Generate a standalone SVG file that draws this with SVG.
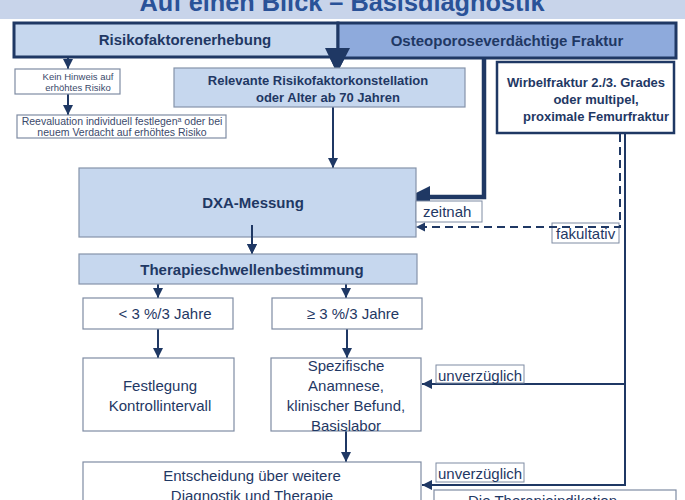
<svg xmlns="http://www.w3.org/2000/svg" width="685" height="500" viewBox="0 0 685 500">
<style>
.t{font-family:"Liberation Sans",Arial,sans-serif;fill:#1f3864}
.b{font-weight:bold}
.s15{font-size:15px}
.s13{font-size:13px}
.sm{font-family:"Liberation Sans",Arial,sans-serif;fill:#3b4a6b}
.box{fill:#ffffff;stroke:#7f8ca3;stroke-width:1.2}
.blue{fill:#c6d7ee;stroke:#8593aa;stroke-width:1.2}
.lbl{fill:#ffffff;stroke:#7f8ca3;stroke-width:1}
.ln{fill:none;stroke:#1f3864;stroke-width:2}
.dash{fill:none;stroke:#1f3864;stroke-width:2;stroke-dasharray:8 5}
</style>
<defs>
<marker id="ah" markerUnits="userSpaceOnUse" markerWidth="12" markerHeight="12" refX="10" refY="5" orient="auto">
<path d="M0,0 L10,5 L0,10 z" fill="#1f3864"/>
</marker>
<marker id="ahs" markerUnits="userSpaceOnUse" markerWidth="10" markerHeight="10" refX="8" refY="4" orient="auto">
<path d="M0,0 L8,4 L0,8 z" fill="#1f3864"/>
</marker>
</defs>
<rect x="0" y="0" width="685" height="19" fill="#c8d4ea"/>
<text x="342" y="11" text-anchor="middle" font-family="'Liberation Sans',Arial,sans-serif" font-weight="bold" font-size="25" fill="#2a5298" textLength="405" lengthAdjust="spacingAndGlyphs">Auf einen Blick – Basisdiagnostik</text>

<g id="connectors">
<path class="ln" d="M68,58 V69" marker-end="url(#ah)"/>
<path class="ln" d="M68,94 V115" marker-end="url(#ah)"/>
<path class="ln" d="M333,107 V168" marker-end="url(#ah)"/>
<path class="ln" d="M252,225 V254" marker-end="url(#ah)"/>
<path class="ln" d="M158,284 V298" marker-end="url(#ah)"/>
<path class="ln" d="M346,284 V298" marker-end="url(#ah)"/>
<path class="ln" d="M158,329 V358" marker-end="url(#ah)"/>
<path class="ln" d="M347,329 V358" marker-end="url(#ah)"/>
<path class="ln" d="M346,431 V462" marker-end="url(#ah)"/>
<path class="ln" d="M625,133 V485 H422" marker-end="url(#ah)"/>
<path class="ln" d="M625,384 H422" marker-end="url(#ah)"/>
<path fill="none" stroke="#1f3864" stroke-width="4.5" d="M484,57 V197 H428"/>
<polygon points="408,197 430,186 430,208" fill="#1f3864"/>
<polygon points="325,48 350,48 337,73" fill="#1f3864"/>
</g>

<g id="header-risiko">
<rect x="14" y="23" width="324" height="34" fill="#c6d7ee" stroke="#1f3864" stroke-width="3"/>
<text class="t b s15" x="185" y="45" text-anchor="middle">Risikofaktorenerhebung</text>
</g>
<g id="header-fraktur">
<rect x="338" y="23" width="338" height="35" fill="#8eaadc" stroke="#1f3864" stroke-width="3"/>
<text class="t b s15" x="507" y="46" text-anchor="middle">Osteoporoseverdächtige Fraktur</text>
</g>
<polygon points="325,48 350,48 337,73" fill="#1f3864"/>

<g id="kein-hinweis">
<rect class="box" x="15" y="69" width="105" height="25"/>
<text class="sm" font-size="9.5" x="78" y="80" text-anchor="middle">Kein Hinweis auf</text>
<text class="sm" font-size="9.5" x="78" y="91" text-anchor="middle">erhöhtes Risiko</text>
</g>
<g id="reevaluation">
<rect class="box" x="17" y="115" width="209" height="23"/>
<text class="sm" font-size="10.5" x="122" y="124.5" text-anchor="middle">Reevaluation individuell festlegen<tspan font-size="7" dy="-3">a</tspan><tspan dy="3"> oder bei</tspan></text>
<text class="sm" font-size="10.5" x="122" y="136" text-anchor="middle">neuem Verdacht auf erhöhtes Risiko</text>
</g>
<g id="relevante">
<rect class="blue" x="174" y="68" width="291" height="39"/>
<text class="t b s13" x="318" y="85" text-anchor="middle">Relevante Risikofaktorkonstellation</text>
<text class="t b s13" x="328" y="102" text-anchor="middle">oder Alter ab 70 Jahren</text>
</g>
<g id="wirbelfraktur">
<rect x="497" y="62" width="177" height="71" fill="#ffffff" stroke="#1f3864" stroke-width="2.5"/>
<text class="t b s13" x="586" y="87" text-anchor="middle">Wirbelfraktur 2./3. Grades</text>
<text class="t b s13" x="596" y="104" text-anchor="middle">oder multipel,</text>
<text class="t b s13" x="596" y="121" text-anchor="middle">proximale Femurfraktur</text>
</g>
<g id="dxa">
<rect class="blue" x="79" y="168" width="337" height="69"/>
<text class="t b s15" x="253" y="208" text-anchor="middle">DXA-Messung</text>
</g>
<path class="ln" d="M252,225 V254" marker-end="url(#ah)"/>
<g id="therapieschwelle">
<rect class="blue" x="79" y="254" width="338" height="30"/>
<text class="t b s15" x="252" y="275" text-anchor="middle">Therapieschwellenbestimmung</text>
</g>
<g id="lt3">
<rect class="box" x="83" y="298" width="150" height="31"/>
<text class="t s15" x="165" y="319" text-anchor="middle">&lt; 3 %/3 Jahre</text>
</g>
<g id="ge3">
<rect class="box" x="272" y="298" width="150" height="31"/>
<text class="t s15" x="353" y="319" text-anchor="middle">≥ 3 %/3 Jahre</text>
</g>
<g id="festlegung">
<rect class="box" x="83" y="358" width="151" height="73"/>
<text class="t s15" x="160" y="391" text-anchor="middle">Festlegung</text>
<text class="t s15" x="160" y="411" text-anchor="middle">Kontrollintervall</text>
</g>
<g id="spezifische">
<rect class="box" x="271" y="358" width="150" height="73"/>
<text class="t s15" x="346" y="371" text-anchor="middle">Spezifische</text>
<text class="t s15" x="346" y="391" text-anchor="middle">Anamnese,</text>
<text class="t s15" x="346" y="411" text-anchor="middle">klinischer Befund,</text>
<text class="t s15" x="346" y="431" text-anchor="middle">Basislabor</text>
</g>
<g id="entscheidung">
<rect class="box" x="83" y="462" width="338" height="50"/>
<text class="t s15" x="252" y="481" text-anchor="middle">Entscheidung über weitere</text>
<text class="t s15" x="252" y="501" text-anchor="middle">Diagnostik und Therapie</text>
</g>
<g id="therapieindikation">
<rect class="box" x="434" y="490" width="242" height="30"/>
<text class="t s15" x="468" y="506">Die Therapieindikation</text>
</g>
<g id="labels">
<rect class="lbl" x="416" y="201" width="66" height="21"/>
<text class="t s15" x="423" y="217">zeitnah</text>
<rect class="lbl" x="552" y="223" width="67" height="20"/>
<text class="t s15" x="556" y="239">fakultativ</text>
<rect class="lbl" x="436" y="365" width="88" height="18"/>
<text class="t s15" x="438" y="381">unverzüglich</text>
<rect class="lbl" x="436" y="463" width="88" height="19"/>
<text class="t s15" x="438" y="479">unverzüglich</text>
</g>
<path class="dash" d="M620,134 V227 H424"/>
<path d="M416,227 L425,222.5 L425,231.5 z" fill="#1f3864"/>
</svg>
